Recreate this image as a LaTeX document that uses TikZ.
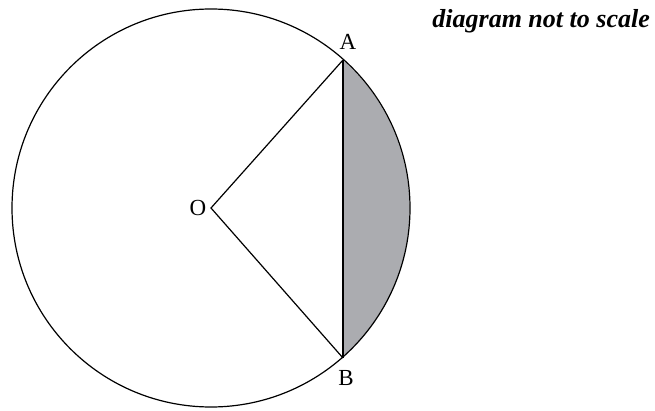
\documentclass[tikz,border=0pt]{standalone}
\usepackage{fontspec}
\setmainfont{Liberation Serif}
\definecolor{segfill}{RGB}{171,172,176}
\begin{document}
\begin{tikzpicture}[x=1pt,y=1pt,
  edge/.style={line width=1.2pt, black},
  ptlabel/.style={font=\fontsize{23}{23}\selectfont, inner sep=0pt}]
\useasboundingbox (0,0) rectangle (655,410);
\coordinate (O) at (211,202);
\coordinate (A) at (343,350);
\coordinate (B) at (343,52);
% shaded segment
\fill[segfill] (A) arc[start angle={atan2(148,132)}, end angle={-atan2(150,132)}, radius=199] -- cycle;
\draw[edge] (O) circle[radius=199];
\draw[edge] (A) -- (O) -- (B);
\draw[edge] (A) -- (B);
\node[ptlabel] (la) at (348,368) {A};
\node[ptlabel] (lb) at (346,32) {B};
\node[ptlabel] (lo) at (198,202) {O};
\node[font=\fontsize{26}{26}\selectfont\bfseries\itshape, anchor=east, inner sep=0pt] (cap) at (650,389) {diagram not to scale};
\end{tikzpicture}
\end{document}
